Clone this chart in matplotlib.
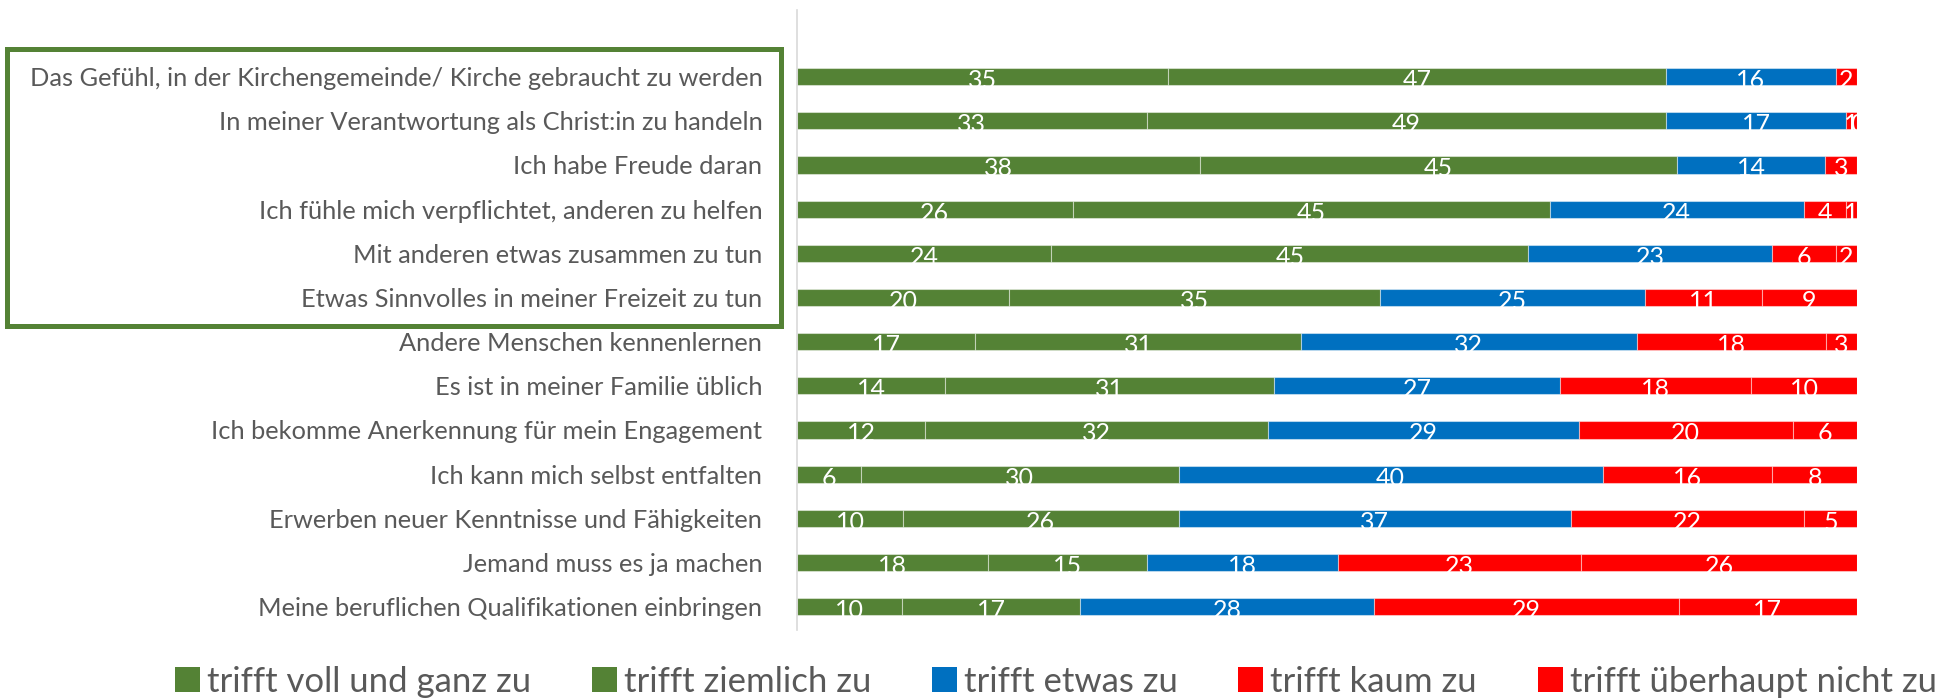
import matplotlib
matplotlib.use("Agg")
import matplotlib.pyplot as plt
from matplotlib.patches import Rectangle
import numpy as np

categories = [
    "Das Gefühl, in der Kirchengemeinde/ Kirche gebraucht zu werden",
    "In meiner Verantwortung als Christ:in zu handeln",
    "Ich habe Freude daran",
    "Ich fühle mich verpflichtet, anderen zu helfen",
    "Mit anderen etwas zusammen zu tun",
    "Etwas Sinnvolles in meiner Freizeit zu tun",
    "Andere Menschen kennenlernen",
    "Es ist in meiner Familie üblich",
    "Ich bekomme Anerkennung für mein Engagement",
    "Ich kann mich selbst entfalten",
    "Erwerben neuer Kenntnisse und Fähigkeiten",
    "Jemand muss es ja machen",
    "Meine beruflichen Qualifikationen einbringen",
]
series_names = ["trifft voll und ganz zu", "trifft ziemlich zu", "trifft etwas zu",
                "trifft kaum zu", "trifft überhaupt nicht zu"]
voll = [35, 33, 38, 26, 24, 20, 17, 14, 12, 6, 10, 18, 10]
ziemlich = [47, 49, 45, 45, 45, 35, 31, 31, 32, 30, 26, 15, 17]
etwas = [16, 17, 14, 24, 23, 25, 32, 27, 29, 40, 37, 18, 28]
kaum = [2, 1, 3, 4, 6, 11, 18, 18, 20, 16, 22, 23, 29]
ueberhaupt = [np.nan, 0, np.nan, 1, 2, 9, 3, 10, 6, 8, 5, 26, 17]
colors = ["#548235", "#548235", "#0070C0", "#FF0000", "#FF0000"]

plt.rcParams['font.family'] = ['Lato', 'DejaVu Sans']
txt_color = "#595959"

fig = plt.figure(figsize=(19.37, 7.0), dpi=100)
ax = fig.add_axes([797 / 1937, 70 / 700, (1857 - 797) / 1937, 620 / 700])

data = np.array([voll, ziemlich, etwas, kaum, ueberhaupt], dtype=float)
totals = np.nansum(data, axis=0)
y = np.arange(len(categories))
left = np.zeros(len(categories))
bar_h = 0.39
for i, name in enumerate(series_names):
    vals = data[i]
    w = np.nan_to_num(vals) / totals * 100
    ax.barh(y, w, left=left, height=bar_h, color=colors[i], label=name,
            edgecolor=(1, 1, 1, 0.45), linewidth=0.8)
    for j in range(len(categories)):
        if not np.isnan(vals[j]):
            ax.text(left[j] + w[j] / 2, y[j] + 0.09, f"{int(vals[j])}", ha="center",
                    va="center", color="white", fontsize=18)
    left += w

ax.set_xlim(0, 100)
ax.set_ylim(12.53, -1.51)
ax.set_yticks(y)
ax.set_yticklabels(categories, fontsize=18.3, color=txt_color)
ax.tick_params(axis="y", length=0, pad=25)
ax.set_xticks([])
for s in ["top", "right", "bottom"]:
    ax.spines[s].set_visible(False)
ax.spines["left"].set_color("#D9D9D9")
ax.spines["left"].set_linewidth(1.2)

handles, labels = ax.get_legend_handles_labels()
leg = fig.legend(handles, labels, loc="center", bbox_to_anchor=(0.545, 0.026), ncol=5,
                 frameon=False, fontsize=25, handlelength=0.72, handleheight=0.72,
                 handletextpad=0.2, columnspacing=1.75, borderaxespad=0)
for t in leg.get_texts():
    t.set_color(txt_color)
for h in leg.legend_handles:
    h.set_edgecolor("none")

box = Rectangle((7 / 1937, 1 - 326 / 700), 774 / 1937, (326 - 49) / 700,
                transform=fig.transFigure, fill=False, edgecolor="#548235", linewidth=3.6)
fig.patches.append(box)

fig.savefig("out.png", dpi=100)
